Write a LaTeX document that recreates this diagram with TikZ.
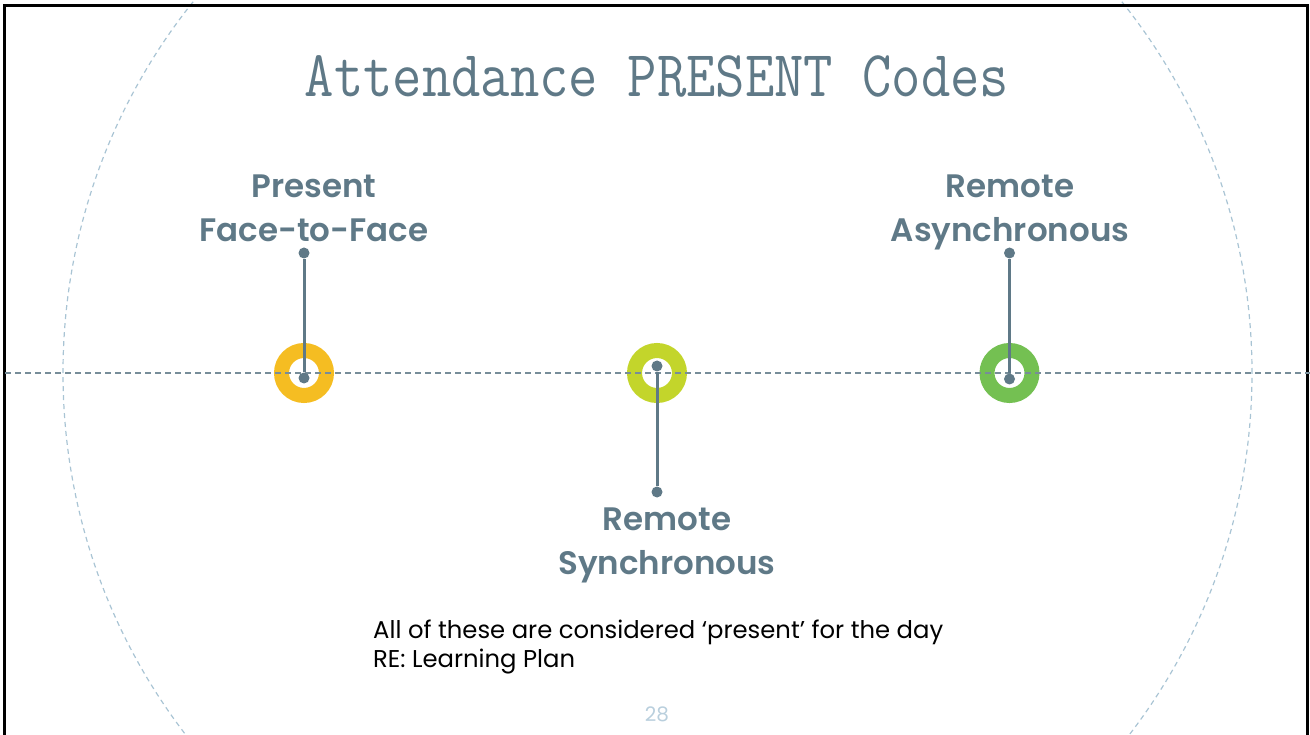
\documentclass[tikz,border=0pt]{standalone}
\usepackage{fontspec}
\newfontfamily\labelfont{Poppins SemiBold}
\newfontfamily\bodyfont{Poppins}
\definecolor{slate}{HTML}{5F7987}
\definecolor{ringyellow}{HTML}{F5BD22}
\definecolor{ringlime}{HTML}{C3D52B}
\definecolor{ringgreen}{HTML}{74C052}
\definecolor{paleblue}{HTML}{A9C4D4}
\definecolor{pagenum}{HTML}{B9CFDD}
\tikzset{
  ring/.style={circle, draw=#1, line width=15pt, minimum size=45pt, inner sep=0pt},
  pin dot/.style={circle, fill=slate, minimum size=11pt, inner sep=0pt},
  stem/.style={draw=slate, line width=3pt},
  codelabel/.style={text=slate, font=\labelfont\fontsize{32.5}{44}\selectfont, align=center, inner sep=0pt},
  axis/.style={draw=slate!85, line width=1.2pt, dash pattern=on 6pt off 4pt},
  guide/.style={draw=paleblue, line width=1.2pt, dash pattern=on 5pt off 4pt},
}
\begin{document}
\begin{tikzpicture}[x=1pt, y=-1pt]
\useasboundingbox (0,0) rectangle (1310,735);
\clip (0,0) rectangle (1310,735);

% large dashed guide circle
\draw[guide] (657.5,373) circle[radius=594.5pt];

% frame
\draw[line width=3pt] (4,745) -- (4,6) -- (1307,6) -- (1307,745);

% title
\node[text=slate, inner sep=0pt, anchor=base] (title) at (657,97)
  {\scalebox{0.87}[1]{\fontsize{65.5}{70}\selectfont\ttfamily Attendance PRESENT Codes}};

% rings on the timeline
\node[ring=ringyellow] (f2f) at (304,373) {};
\node[ring=ringlime] (sync) at (657,373) {};
\node[ring=ringgreen] (async) at (1009.5,373) {};

% timeline axis
\draw[axis] (5,373) -- (1310,373);

% pins
\node[pin dot] (f2fin) at (304,378) {};
\node[pin dot] (f2fout) at (304,253) {};
\node[pin dot] (syncin) at (657,366) {};
\node[pin dot] (syncout) at (657,492) {};
\node[pin dot] (asyncin) at (1009.5,379) {};
\node[pin dot] (asyncout) at (1009.5,253) {};
\draw[stem] (f2fin) -- (f2fout);
\draw[stem] (syncin) -- (syncout);
\draw[stem] (asyncin) -- (asyncout);

% labels
\node[codelabel, anchor=north] (f2flabel) at (314,175) {Present\\Face-to-Face};
\node[codelabel, anchor=north] (synclabel) at (667,508) {Remote\\Synchronous};
\node[codelabel, anchor=north] (asynclabel) at (1010,175) {Remote\\Asynchronous};

% note
\node[anchor=north west, inner sep=0pt, align=left,
      font=\bodyfont\fontsize{24.3}{29}\selectfont] (note) at (373,620)
  {All of these are considered ‘present’ for the day\\RE: Learning Plan};

% page number
\node[text=pagenum, font=\bodyfont\fontsize{20}{24}\selectfont, inner sep=0pt] (page) at (657,714) {28};
\end{tikzpicture}
\end{document}
